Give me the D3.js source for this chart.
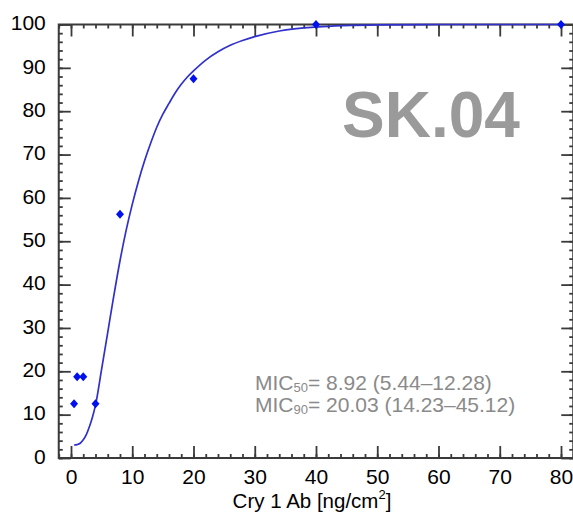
<!DOCTYPE html>
<html>
<head>
<meta charset="utf-8">
<script src="https://cdn.jsdelivr.net/npm/d3@7"></script>
<style>
  body { margin: 0; background: #fff; }
  svg text { font-family: "Liberation Sans", Arial, sans-serif; }
</style>
</head>
<body>
<div id="chart"></div>
<script>
// observed mortality (%) per dose
var doses = [0.5, 1, 2, 4, 8, 20, 40, 80];
var mortality = [12.5, 18.75, 18.75, 12.5, 56.25, 87.5, 100, 100];

// fitted curve
var fitDose = [0.5, 1, 1.5, 2, 2.5, 3, 3.5, 4, 5, 6, 7, 8, 9, 10, 11, 12, 13, 14, 15, 16, 17, 18, 19, 20, 22, 24, 26, 28, 30, 34, 40, 50, 60, 80];
var fitMort = [3.0, 3.1, 3.4, 4.2, 5.4, 7.2, 9.4, 12.2, 20.5, 29, 37.5, 45.5, 52.5, 58.5, 63.8, 68.5, 72.6, 76.3, 79.3, 81.8, 84.2, 86.2, 87.9, 89.3, 91.8, 93.7, 95.2, 96.3, 97.2, 98.5, 99.4, 99.9, 100, 100];

var xMajor = [0, 10, 20, 30, 40, 50, 60, 70, 80];
var yMajor = [0, 10, 20, 30, 40, 50, 60, 70, 80, 90, 100];
var xMinor = d3.range(-2, 83, 2);
var yMinor = d3.range(0, 101, 2);

var W = 573, H = 520;
var pLeft = 58.75, pRight = 573.25, pTop = 24.5, pBottom = 458;

var svg = d3.select("#chart").append("svg")
    .attr("width", W)
    .attr("height", H);

var x = d3.scaleLinear().domain([-2, 82]).range([pLeft, pRight]);
var y = d3.scaleLinear().domain([0, 100]).range([pBottom, pTop]);

var axisColor = "#3a3a3a";

function styleAxis(g) {
  g.select(".domain").remove();
  g.selectAll(".tick line").attr("stroke", axisColor).attr("stroke-width", 1.8);
  g.selectAll("text").attr("fill", "#000").attr("font-size", "21px");
}

// bottom
svg.append("g").attr("transform", "translate(0," + pBottom + ")")
  .call(d3.axisBottom(x).tickValues(xMinor).tickSize(-4).tickSizeOuter(0).tickFormat(""))
  .call(styleAxis);
svg.append("g").attr("transform", "translate(0," + pBottom + ")")
  .call(d3.axisBottom(x).tickValues(xMajor).tickSize(-12).tickSizeOuter(0).tickPadding(11))
  .call(styleAxis);

// top
svg.append("g").attr("transform", "translate(0," + pTop + ")")
  .call(d3.axisTop(x).tickValues(xMinor).tickSize(-4).tickSizeOuter(0).tickFormat(""))
  .call(styleAxis);
svg.append("g").attr("transform", "translate(0," + pTop + ")")
  .call(d3.axisTop(x).tickValues(xMajor).tickSize(-12).tickSizeOuter(0).tickFormat(""))
  .call(styleAxis);

// left
svg.append("g").attr("transform", "translate(" + pLeft + ",0)")
  .call(d3.axisLeft(y).tickValues(yMinor).tickSize(-4).tickSizeOuter(0).tickFormat(""))
  .call(styleAxis);
svg.append("g").attr("transform", "translate(" + pLeft + ",0)")
  .call(d3.axisLeft(y).tickValues(yMajor).tickSize(-12).tickSizeOuter(0).tickPadding(13))
  .call(styleAxis)
  .selectAll("text").attr("dy", "0.25em");

// right
svg.append("g").attr("transform", "translate(" + pRight + ",0)")
  .call(d3.axisRight(y).tickValues(yMinor).tickSize(-4).tickSizeOuter(0).tickFormat(""))
  .call(styleAxis);
svg.append("g").attr("transform", "translate(" + pRight + ",0)")
  .call(d3.axisRight(y).tickValues(yMajor).tickSize(-12).tickSizeOuter(0).tickFormat(""))
  .call(styleAxis);

// frame
svg.append("rect")
  .attr("x", pLeft).attr("y", pTop)
  .attr("width", pRight - pLeft).attr("height", pBottom - pTop)
  .attr("fill", "none")
  .attr("stroke", axisColor)
  .attr("stroke-width", 2);

// fitted curve
var line = d3.line()
  .x(function(d, i) { return x(fitDose[i]); })
  .y(function(d, i) { return y(fitMort[i]); })
  .curve(d3.curveMonotoneX);

svg.append("path")
  .datum(fitDose)
  .attr("d", line)
  .attr("fill", "none")
  .attr("stroke", "#3030cc")
  .attr("stroke-width", 1.7);

// points
svg.selectAll("path.pt")
  .data(doses)
  .enter()
  .append("path")
  .attr("class", "pt")
  .attr("d", "M0,-4.5L4,0L0,4.5L-4,0Z")
  .attr("transform", function(d, i) {
    return "translate(" + x(d) + "," + y(mortality[i]) + ")";
  })
  .attr("fill", "#0010ee");

// axis title
var title = svg.append("text")
  .attr("x", 312)
  .attr("y", 508)
  .attr("text-anchor", "middle")
  .attr("font-size", "20.5px")
  .attr("fill", "#000");
title.append("tspan").text("Cry 1 Ab [ng/cm");
title.append("tspan").attr("font-size", "13px").attr("dy", "-9").text("2");
title.append("tspan").attr("dy", "9").text("]");

// strain label
svg.append("text")
  .attr("x", 342)
  .attr("y", 137)
  .attr("font-size", "64px")
  .attr("font-weight", "bold")
  .attr("fill", "#9a9a9a")
  .text("SK.04");

// MIC annotations
var mic = [
  {sub: "50", txt: "= 8.92 (5.44\u201312.28)", y: 390},
  {sub: "90", txt: "= 20.03 (14.23\u201345.12)", y: 412}
];
mic.forEach(function(m) {
  var t = svg.append("text")
    .attr("x", 255)
    .attr("y", m.y)
    .attr("font-size", "21px")
    .attr("fill", "#8a8a8a");
  t.append("tspan").text("MIC");
  t.append("tspan").attr("font-size", "13px").attr("dy", "2").text(m.sub);
  t.append("tspan").attr("dy", "-2").text(m.txt);
});
</script>
</body>
</html>
